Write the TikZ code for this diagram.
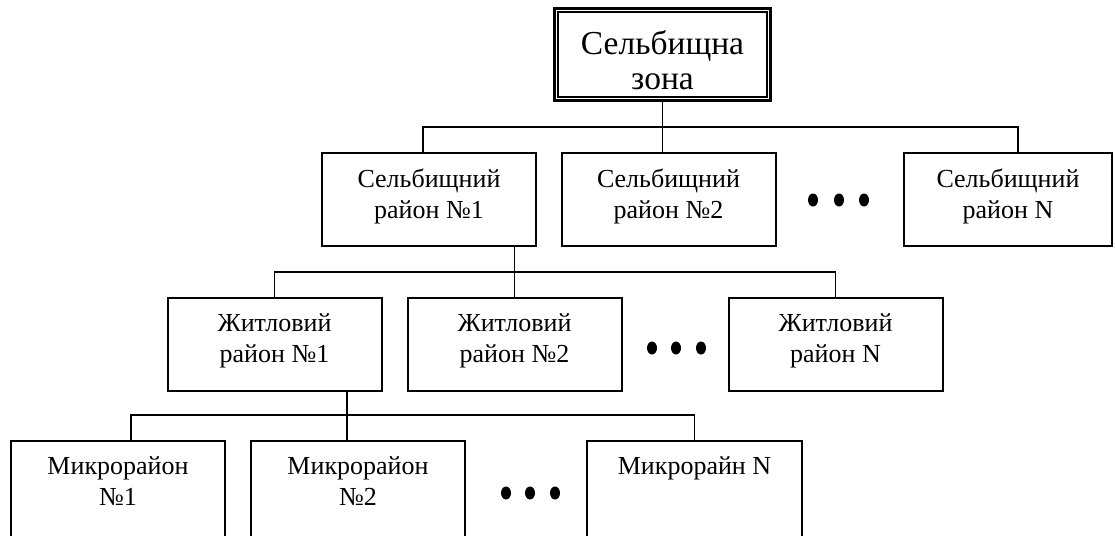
\documentclass[tikz,border=0pt]{standalone}
\usepackage{fontspec}
\setmainfont{Liberation Serif}
\usetikzlibrary{calc}
\newcommand\lowstrut{\rule[-12pt]{0pt}{12pt}}
\newcommand\topstrut{\rule{0pt}{36pt}}
\begin{document}
\begin{tikzpicture}[x=1pt,y=-1pt,
  box/.style={draw, line width=2pt, rectangle, minimum width=214pt, minimum height=93pt,
    inner sep=0pt, align=center, font=\fontsize{26}{31}\selectfont},
  topbox/.style={draw, line width=3.2pt, rectangle, minimum width=216pt, minimum height=92pt,
    inner sep=0pt, align=center, font=\fontsize{33.5}{35}\selectfont},
  openbox/.style={rectangle, minimum width=214pt, minimum height=120pt, inner sep=0pt},
  lbl/.style={inner sep=0pt, align=center, font=\fontsize{26}{31}\selectfont},
  conn/.style={line width=1.6pt},
  openline/.style={line width=2pt}]
\clip (0,0) rectangle (1115,535);
\fill[white] (0,0) rectangle (1115,535);
% top
\node[topbox] (top) at (662.5,54.5) {\topstrut Сельбищна\\зона};
\draw[line width=1.6pt] ([shift={(5pt,-5pt)}]top.north west) rectangle ([shift={(-5pt,5pt)}]top.south east);
% level 2
\node[box] (r1) at (429,199.5) {Сельбищний\\район №1\lowstrut};
\node[box] (r2) at (668.5,199.5) {Сельбищний\\район №2\lowstrut};
\node[box, minimum width=208pt] (rN) at (1008,199.5) {Сельбищний\\район N\lowstrut};
% level 3
\node[box] (z1) at (274.5,344) {Житловий\\район №1\lowstrut};
\node[box] (z2) at (514.5,344) {Житловий\\район №2\lowstrut};
\node[box] (zN) at (835.5,344) {Житловий\\район N\lowstrut};
% level 4 (open at the bottom)
\node[openbox] (m1) at (118,501) {};
\node[openbox] (m2) at (358,501) {};
\node[openbox] (mN) at (694.5,501) {};
\draw[openline] (m1.south west) -- (m1.north west) -- (m1.north east) -- (m1.south east);
\draw[openline] (m2.south west) -- (m2.north west) -- (m2.north east) -- (m2.south east);
\draw[openline] (mN.south west) -- (mN.north west) -- (mN.north east) -- (mN.south east);
\node[lbl, anchor=north] (m1t) at (118,456) {Микрорайон\\№1};
\node[lbl, anchor=north] (m2t) at (358,456) {Микрорайон\\№2};
\node[lbl, anchor=north] (mNt) at (694.5,456) {Микрорайн N};
% connectors level 1 -> 2
\coordinate (b1) at (0,127);
\draw[conn] (top.south) -- (top.south |- r2.north);
\draw[conn] ([xshift=-6pt]r1.north) |- ([xshift=10pt]rN.north |- b1) -- ([xshift=10pt]rN.north);
% connectors level 2 -> 3
\coordinate (b2) at (0,272);
\draw[conn] (z2.north) -- (z2.north |- r1.south);
\draw[conn] (z1.north) |- (zN.north |- b2) -- (zN.north);
% connectors level 3 -> 4
\coordinate (b3) at (347,415);
\draw[conn] (b3 |- z1.south) -- (b3 |- m2.north);
\draw[conn] ([xshift=13pt]m1.north) |- (mN.north |- b3) -- (mN.north);
% ellipsis dots
\foreach \x in {813,839,864} \fill (\x,200) ellipse [x radius=5, y radius=6.5];
\foreach \x in {652,676,701} \fill (\x,348) ellipse [x radius=5, y radius=6.5];
\foreach \x in {506,530,555} \fill (\x,493) ellipse [x radius=5, y radius=6.5];
\end{tikzpicture}
\end{document}
